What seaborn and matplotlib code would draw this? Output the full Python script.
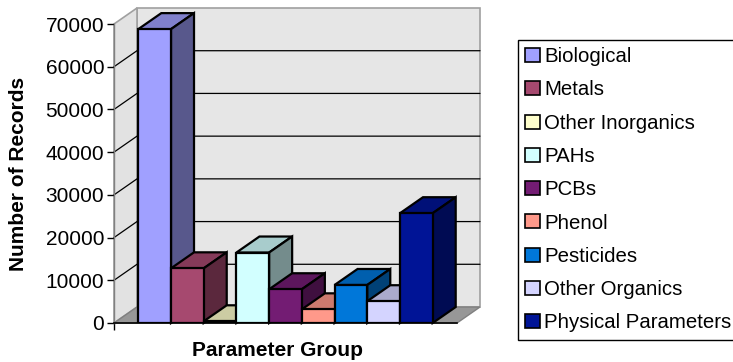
import matplotlib
matplotlib.use("Agg")
import matplotlib.pyplot as plt
from matplotlib.patches import Polygon, Patch
from matplotlib.colors import to_rgb
import pandas as pd
import seaborn as sns

# Records per parameter group
groups = ["Biological", "Metals", "Other Inorganics", "PAHs", "PCBs",
          "Phenol", "Pesticides", "Other Organics", "Physical Parameters"]
records = [68800, 12800, 400, 16500, 7900, 3200, 8900, 5100, 25700]
colors = ["#A0A0FF", "#A6496F", "#FFFFCC", "#D2FFFF", "#731C73",
          "#FF998A", "#0077D9", "#D4D4FF", "#001496"]
y_ticks = [0, 10000, 20000, 30000, 40000, 50000, 60000, 70000]

sns.set_style("white")
plt.rcParams["font.family"] = ["Liberation Sans", "DejaVu Sans"]
plt.rcParams.update({"text.color": "black", "axes.labelcolor": "black",
                     "xtick.color": "black", "ytick.color": "black"})

W, H = 733, 362
fig = plt.figure(figsize=(W / 100, H / 100), dpi=100)
fig.patch.set_facecolor("white")

# front plane of the 3-D box, in pixels
fx0, fx1, fy_top, fy0 = 114, 457, 24, 323
ax = fig.add_axes([fx0 / W, 1 - fy0 / H, (fx1 - fx0) / W, (fy0 - fy_top) / H])
ax.patch.set_alpha(0)

df = pd.DataFrame({"group": groups, "records": records})
sns.barplot(data=df, x="group", y="records", hue="group", palette=colors,
            saturation=1, width=1.0, edgecolor="black", linewidth=1.6,
            legend=False, ax=ax)
bars = sorted(ax.patches, key=lambda p: p.get_x())

side_gap = 24.3 / 32.7
ax.set_xlim(-0.5 - side_gap, len(groups) - 0.5 + side_gap)
ax.set_ylim(y_ticks[0], y_ticks[-1])
x0, x1 = ax.get_xlim()
y0, y1 = ax.get_ylim()

# depth offset of the box, converted to data units
ddx = 23 * (x1 - x0) / (fx1 - fx0)
ddy = 16 * (y1 - y0) / (fy0 - fy_top)

wall_edge = "#A0A0A0"
ax.add_patch(Polygon([(x0 + ddx, ddy), (x1 + ddx, ddy), (x1 + ddx, y1 + ddy),
                      (x0 + ddx, y1 + ddy)], closed=True, fc="#E6E6E6",
                     ec=wall_edge, lw=1.2, zorder=0.5, clip_on=False))
ax.add_patch(Polygon([(x0, y0), (x0 + ddx, ddy), (x0 + ddx, y1 + ddy), (x0, y1)],
                     closed=True, fc="#E2E2E2", ec=wall_edge, lw=1.2,
                     zorder=0.5, clip_on=False))
ax.add_patch(Polygon([(x0, y0), (x1, y0), (x1 + ddx, ddy), (x0 + ddx, ddy)],
                     closed=True, fc="#979797", ec="#808080", lw=1.0,
                     zorder=0.55, clip_on=False))
for t in y_ticks[1:-1]:
    ax.plot([x0, x0 + ddx, x1 + ddx], [t, t + ddy, t + ddy], color="black",
            lw=0.9, zorder=0.7, clip_on=False)


def shade(c, f):
    r, g, b = to_rgb(c)
    return (r * f, g * f, b * f)


# top and side faces of each column, drawn left to right
for i, p in enumerate(bars):
    bx0 = p.get_x()
    bx1 = bx0 + p.get_width()
    h = p.get_height()
    fc = p.get_facecolor()
    z = 2 + i
    p.set_zorder(z + 0.5)
    p.set_joinstyle("miter")
    ax.add_patch(Polygon([(bx0, h), (bx1, h), (bx1 + ddx, h + ddy), (bx0 + ddx, h + ddy)],
                         closed=True, fc=shade(fc, 0.8), ec="black", lw=1.6,
                         zorder=z, clip_on=False))
    ax.add_patch(Polygon([(bx1, 0), (bx1, h), (bx1 + ddx, h + ddy), (bx1 + ddx, ddy)],
                         closed=True, fc=shade(fc, 0.55), ec="black", lw=1.6,
                         zorder=z, clip_on=False))

for s in ["top", "right"]:
    ax.spines[s].set_visible(False)
ax.spines["left"].set_color("#808080")
ax.spines["left"].set_linewidth(1.0)
ax.spines["bottom"].set_color("black")
ax.spines["bottom"].set_linewidth(1.2)

ax.set_yticks(y_ticks)
ax.set_yticklabels([str(v) for v in y_ticks])
ax.set_xticks([x0])
ax.set_xticklabels([""])
ax.tick_params(axis="both", direction="out", length=5, width=1, color="black",
               labelcolor="black", labelsize=15, pad=2, left=True, bottom=True)
ax.set_xlabel("")
ax.set_ylabel("")

fig.text(19 / W, 1 - 174 / H, "Number of Records", rotation=90, ha="center",
         va="center", fontsize=15, fontweight="bold", color="black")
fig.text(277 / W, 1 - 350 / H, "Parameter Group", ha="center", va="center",
         fontsize=15, fontweight="bold", color="black")

handles = [Patch(fc=c, ec="black", lw=1.2, label=g) for g, c in zip(groups, colors)]
leg = fig.legend(handles=handles, loc="upper left",
                 bbox_to_anchor=(518 / W, 1 - 40 / H), bbox_transform=fig.transFigure,
                 frameon=True, fancybox=False, shadow=False, framealpha=1,
                 edgecolor="black", fontsize=14.7, handlelength=0.72,
                 handleheight=0.68, handletextpad=0.22, labelspacing=0.70,
                 borderpad=0.35, borderaxespad=0, labelcolor="black")
leg.get_frame().set_linewidth(1.0)

fig.savefig("out.png", dpi=100, facecolor="white")
